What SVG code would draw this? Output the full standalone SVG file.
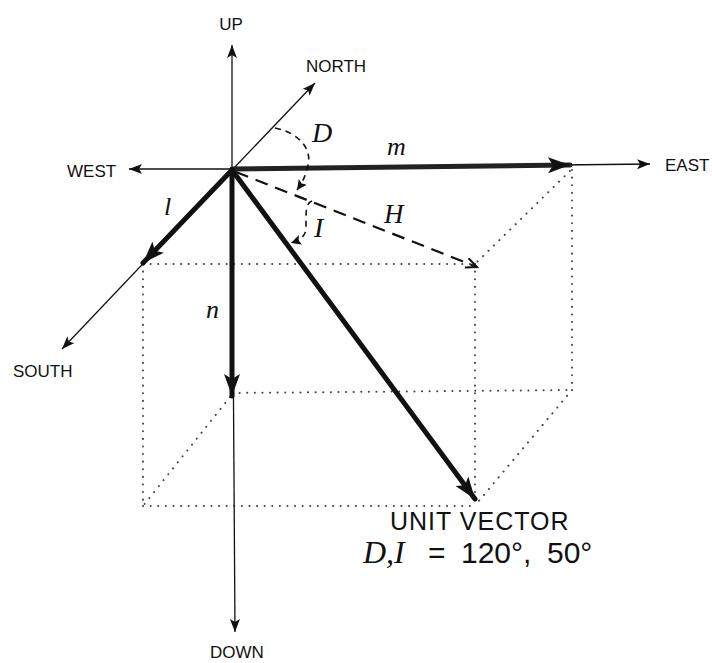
<svg xmlns="http://www.w3.org/2000/svg" width="712" height="663" viewBox="0 0 712 663">
<style>
.ax{stroke:#111;stroke-width:1.3;fill:none}
.thick{stroke:#111;stroke-width:5;fill:none;stroke-linecap:round}
.dot{stroke:#444;stroke-width:2;fill:none;stroke-dasharray:0.1 7.5;stroke-linecap:round}
.dash{stroke:#111;stroke-width:2.2;fill:none;stroke-dasharray:13 8}
.arc{stroke:#111;stroke-width:1.6;fill:none;stroke-dasharray:6 5}
.lab{font-family:"Liberation Sans",Arial,sans-serif;font-size:17px;fill:#111}
.it{font-family:"Liberation Serif","Times New Roman",serif;font-style:italic;fill:#111}
.big{font-family:"Liberation Sans",Arial,sans-serif;fill:#111}
</style>
<defs>
<marker id="ha" markerUnits="userSpaceOnUse" markerWidth="16" markerHeight="12" refX="13" refY="5" orient="auto">
<path d="M0,0 L13,5 L0,10 L3,5 Z" fill="#111"/>
</marker>
<marker id="hb" markerUnits="userSpaceOnUse" markerWidth="26" markerHeight="20" refX="22" refY="8" orient="auto">
<path d="M0,0 L22,8 L0,16 L5,8 Z" fill="#111"/>
</marker>
<marker id="ho" markerUnits="userSpaceOnUse" markerWidth="16" markerHeight="14" refX="12" refY="6" orient="auto">
<path d="M1,1 L12,6 L1,11" fill="none" stroke="#111" stroke-width="2"/>
</marker>
<marker id="hs" markerUnits="userSpaceOnUse" markerWidth="14" markerHeight="12" refX="10" refY="5" orient="auto">
<path d="M0,0 L10,5 L0,10 L2,5 Z" fill="#111"/>
</marker>
</defs>

<g id="box">
<line class="dot" x1="143" y1="264" x2="475" y2="264"/>
<line class="dot" x1="143" y1="264" x2="143" y2="506"/>
<line class="dot" x1="143" y1="506" x2="475" y2="506"/>
<line class="dot" x1="475" y1="264" x2="475" y2="500"/>
<line class="dot" x1="572" y1="170" x2="572" y2="390"/>
<line class="dot" x1="570" y1="171" x2="475" y2="264"/>
<line class="dot" x1="232" y1="393" x2="572" y2="390"/>
<line class="dot" x1="230" y1="397" x2="143" y2="506"/>
<line class="dot" x1="572" y1="390" x2="478" y2="502"/>
</g>

<g id="axes">
<line class="ax" x1="232" y1="170" x2="232" y2="45" marker-end="url(#ha)"/>
<line class="ax" x1="232" y1="170" x2="235" y2="632" marker-end="url(#ha)"/>
<line class="ax" x1="232" y1="169" x2="129" y2="169" marker-end="url(#ha)"/>
<line class="ax" x1="560" y1="165" x2="650" y2="164" marker-end="url(#ha)"/>
<line class="ax" x1="232" y1="170" x2="315" y2="83" marker-end="url(#ha)"/>
<line class="ax" x1="232" y1="170" x2="62" y2="349" marker-end="url(#ha)"/>
</g>

<g id="vectors">
<line class="thick" x1="232" y1="169" x2="570" y2="165" stroke-width="6" style="stroke:#222" marker-end="url(#hb)"/>
<line class="thick" x1="232" y1="170" x2="143" y2="263" marker-end="url(#hb)"/>
<line class="thick" x1="232" y1="170" x2="232" y2="396" marker-end="url(#hb)"/>
<line class="thick" x1="232" y1="170" x2="475" y2="499" marker-end="url(#hb)"/>
<line class="dash" x1="236" y1="172" x2="477" y2="267" marker-end="url(#ho)"/>
<path class="arc" d="M275,128 C300,133 312,150 308,165 C305,178 302,183 297,190" marker-end="url(#hs)"/>
<path class="arc" d="M312,201 C305,203 306,215 306,228 C306,236 300,240 291,243" marker-end="url(#hs)"/>
</g>

<g id="labels">
<text class="lab" x="231" y="30" text-anchor="middle">UP</text>
<text class="lab" x="306" y="72">NORTH</text>
<text class="lab" x="67" y="177">WEST</text>
<text class="lab" x="665" y="171">EAST</text>
<text class="lab" x="13" y="377">SOUTH</text>
<text class="lab" x="210" y="658">DOWN</text>
<text class="it" x="387" y="155" font-size="26">m</text>
<text class="it" x="312" y="142" font-size="28">D</text>
<text class="it" x="384" y="223" font-size="27">H</text>
<text class="it" x="314" y="237" font-size="28">I</text>
<text class="it" x="164" y="215" font-size="26">l</text>
<text class="it" x="206" y="318" font-size="26">n</text>
</g>

<g id="caption">
<text class="big" x="390" y="530" font-size="25" letter-spacing="1">UNIT VECTOR</text>
<text class="it" x="363" y="563" font-size="32">D,I</text>
<text class="big" x="428" y="563" font-size="30">=</text>
<text class="big" x="461" y="563" font-size="30">120°,</text>
<text class="big" x="547" y="563" font-size="30">50°</text>
</g>
</svg>
